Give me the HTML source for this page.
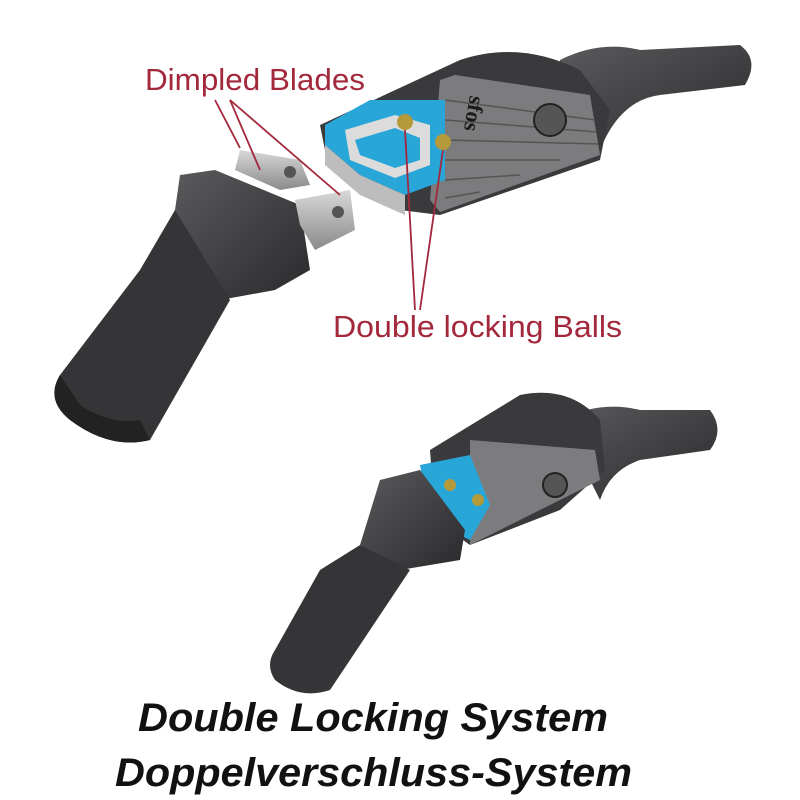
<!DOCTYPE html>
<html><head><meta charset="utf-8"><style>
html,body{margin:0;padding:0;background:#fff;}
svg{display:block}
</style></head><body>
<svg width="800" height="800" viewBox="0 0 800 800" xmlns="http://www.w3.org/2000/svg">
<defs>
<linearGradient id="g1" x1="0" y1="0" x2="1" y2="1"><stop offset="0" stop-color="#5a5a5c"/><stop offset="1" stop-color="#2a2a2c"/></linearGradient>
<linearGradient id="g2" x1="0" y1="0" x2="0" y2="1"><stop offset="0" stop-color="#d8d8d8"/><stop offset="1" stop-color="#8a8a8a"/></linearGradient>
</defs>
<path d="M560,60 Q600,40 640,50 L740,45 Q760,60 745,85 L660,95 Q620,100 600,150 L560,130 Z" fill="url(#g1)"/>
<path d="M320,125 L460,60 Q520,40 580,70 L610,110 L600,160 L440,215 L400,210 L325,150 Z" fill="#3a3a3c"/>
<path d="M455,75 L590,95 L600,155 L440,212 L430,200 L440,80 Z" fill="#7c7c7e"/>
<g stroke="#555" stroke-width="1.5">
<line x1="445" y1="100" x2="595" y2="120"/><line x1="445" y1="120" x2="597" y2="132"/><line x1="445" y1="140" x2="598" y2="144"/><line x1="445" y1="160" x2="560" y2="160"/><line x1="445" y1="180" x2="520" y2="175"/><line x1="445" y1="198" x2="480" y2="192"/>
</g>
<circle cx="550" cy="120" r="16" fill="#555" stroke="#222" stroke-width="2"/>
<text x="470" y="95" font-family="Liberation Serif,serif" font-size="22" font-weight="bold" fill="#1a1a1a" transform="rotate(100 470 95)">sfos</text>
<path d="M325,125 L370,100 L445,100 L445,180 L405,195 L360,175 L325,145 Z" fill="#29a6d8"/>
<path d="M345,130 L395,115 L430,125 L430,165 L395,178 L350,160 Z" fill="#dcdcdc"/>
<path d="M355,140 L395,128 L420,138 L420,160 L395,168 L360,155 Z" fill="#29a6d8"/>
<path d="M325,145 L360,175 L405,195 L405,215 L360,195 L325,165 Z" fill="#bdbdbd"/>
<circle cx="405" cy="122" r="8" fill="#b59a3a"/><circle cx="443" cy="142" r="8" fill="#b59a3a"/>
<path d="M180,175 L215,170 L300,205 L310,270 L275,290 L220,300 L185,265 L175,210 Z" fill="url(#g1)"/>
<path d="M175,210 L230,300 L150,440 Q110,450 70,420 Q45,400 60,375 L140,270 Z" fill="#353537"/>
<path d="M60,375 Q45,400 70,420 Q110,450 150,440 L140,420 Q110,425 80,405 Z" fill="#222"/>
<path d="M240,150 L300,160 L310,185 L280,190 L235,170 Z" fill="url(#g2)"/>
<path d="M295,200 L350,190 L355,230 L315,250 L300,225 Z" fill="url(#g2)"/>
<circle cx="290" cy="172" r="6" fill="#555"/><circle cx="338" cy="212" r="6" fill="#555"/>
<text x="145" y="90" font-family="Liberation Sans,sans-serif" font-size="31" fill="#a3283c" textLength="220" lengthAdjust="spacingAndGlyphs">Dimpled Blades</text>
<text x="333" y="337" font-family="Liberation Sans,sans-serif" font-size="31" fill="#a3283c" textLength="289" lengthAdjust="spacingAndGlyphs">Double locking Balls</text>
<g stroke="#a3283c" stroke-width="1.8" fill="none">
<polyline points="230,100 260,170 "/><polyline points="230,100 340,195"/><polyline points="215,100 240,148"/>
<line x1="405" y1="130" x2="415" y2="310"/><line x1="443" y1="150" x2="420" y2="310"/>
</g>
<path d="M560,420 Q600,400 640,410 L710,410 Q725,430 710,450 L640,460 Q610,470 600,500 Z" fill="url(#g1)"/>
<path d="M430,450 L520,395 Q570,385 600,420 L605,470 L560,510 L470,545 L435,520 Z" fill="#3a3a3c"/>
<path d="M470,440 L595,450 L600,480 L470,545 Z" fill="#7c7c7e"/>
<path d="M420,465 L470,455 L490,505 L470,540 L430,520 Z" fill="#29a6d8"/>
<circle cx="450" cy="485" r="6" fill="#b59a3a"/><circle cx="478" cy="500" r="6" fill="#b59a3a"/>
<circle cx="555" cy="485" r="12" fill="#555" stroke="#222" stroke-width="2"/>
<path d="M380,480 L420,470 L465,530 L460,560 L400,570 L360,545 Z" fill="url(#g1)"/>
<path d="M360,545 L410,570 L330,690 Q300,700 275,680 Q265,665 275,650 L320,570 Z" fill="#353537"/>
<text x="138" y="731" font-family="Liberation Sans,sans-serif" font-size="40" font-weight="bold" font-style="italic" fill="#111" textLength="470" lengthAdjust="spacingAndGlyphs">Double Locking System</text>
<text x="115" y="786" font-family="Liberation Sans,sans-serif" font-size="40" font-weight="bold" font-style="italic" fill="#111" textLength="517" lengthAdjust="spacingAndGlyphs">Doppelverschluss-System</text>
</svg>
</body></html>
